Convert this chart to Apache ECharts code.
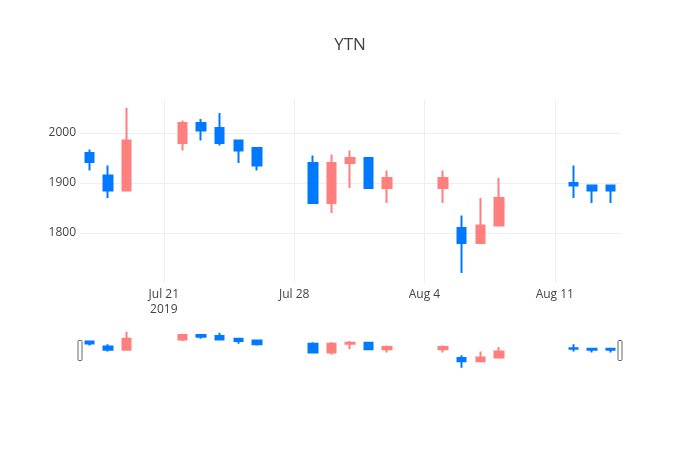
<!DOCTYPE html>
<html>
<head>
<meta charset="utf-8">
<script src="https://cdn.jsdelivr.net/npm/echarts@6/dist/echarts.min.js"></script>
<style>
html,body{margin:0;padding:0;background:#fff;}
#chart{width:700px;height:450px;}
</style>
</head>
<body>
<div id="chart"></div>
<script>
// ---- data ----
const dates = ['2019-07-17','2019-07-18','2019-07-19','2019-07-22','2019-07-23','2019-07-24','2019-07-25','2019-07-26',
  '2019-07-29','2019-07-30','2019-07-31','2019-08-01','2019-08-02','2019-08-05','2019-08-06','2019-08-07','2019-08-08',
  '2019-08-12','2019-08-13','2019-08-14'];
const openVals  = [1960,1915,1885,1980,2020,2010,1985,1970,1940,1860,1940,1950,1890,1890,1810,1780,1815,1900,1895,1895];
const closeVals = [1942,1885,1985,2020,2005,1980,1965,1935,1860,1940,1950,1890,1910,1910,1780,1815,1870,1895,1885,1885];
const lowVals   = [1925,1870,1885,1965,1985,1975,1940,1925,1860,1840,1890,1890,1860,1860,1720,1780,1815,1870,1860,1860];
const highVals  = [1967,1935,2050,2025,2028,2040,1985,1970,1955,1957,1965,1950,1925,1925,1835,1870,1910,1935,1895,1895];
const xTickDates  = ['2019-07-21','2019-07-28','2019-08-04','2019-08-11'];
const xTickLabels = ['Jul 21\n2019','Jul 28','Aug 4','Aug 11'];
const yTickValues = [1800,1900,2000];
const yTickLabels = ['1800','1900','2000'];
const xRangeDates = ['2019-07-16T12:00:00Z','2019-08-14T12:00:00Z'];
const yRange = [1700,2066];

const DAY = 86400000;
const ORIGIN = Date.parse('2019-07-21T00:00:00Z');
const toX = d => (Date.parse(d.length > 10 ? d : d + 'T00:00:00Z') - ORIGIN) / DAY;

const candleData = dates.map((d,i) => [toX(d), openVals[i], closeVals[i], lowVals[i], highVals[i]]);
const xTicks = xTickDates.map(toX);
const xLabelMap = {};
xTicks.forEach((v,i) => xLabelMap[v] = xTickLabels[i]);
const yLabelMap = {};
yTickValues.forEach((v,i) => yLabelMap[v] = yTickLabels[i]);

const UP = '#FF7F7F', DOWN = '#0078FF';
const FONT = '"Open Sans", verdana, arial, sans-serif';

const candleStyle = {color: UP, color0: DOWN, borderColor: UP, borderColor0: DOWN, borderWidth: 2};

const chart = echarts.init(document.getElementById('chart'), null, {renderer: 'canvas'});
chart.setOption({
  animation: false,
  backgroundColor: '#fff',
  title: {
    text: 'YTN', left: 'center', top: 32,
    textStyle: {fontFamily: FONT, fontSize: 17, fontWeight: 'normal', color: '#444'}
  },
  grid: [
    {left: 80, right: 80, top: 100, height: 183},
    {left: 80, right: 80, top: 330, height: 40}
  ],
  xAxis: [
    {
      type: 'value', gridIndex: 0,
      min: toX(xRangeDates[0]), max: toX(xRangeDates[1]),
      axisLine: {show: false},
      axisTick: {show: false, customValues: xTicks},
      splitLine: {show: true, lineStyle: {color: '#eee', width: 1}},
      axisLabel: {
        customValues: xTicks, margin: 4,
        formatter: v => xLabelMap[v] || '',
        fontFamily: FONT, fontSize: 12, color: '#444', lineHeight: 15
      }
    },
    {
      type: 'value', gridIndex: 1,
      min: toX(xRangeDates[0]), max: toX(xRangeDates[1]),
      show: false
    }
  ],
  yAxis: [
    {
      type: 'value', gridIndex: 0, min: yRange[0], max: yRange[1],
      axisLine: {show: false},
      axisTick: {show: false, customValues: yTickValues},
      splitLine: {show: true, lineStyle: {color: '#eee', width: 1}},
      axisLabel: {customValues: yTickValues, margin: 4, formatter: v => yLabelMap[v] || String(v),
        fontFamily: FONT, fontSize: 12, color: '#444'}
    },
    {type: 'value', gridIndex: 1, min: yRange[0], max: yRange[1], show: false}
  ],
  series: [
    {
      type: 'candlestick', xAxisIndex: 0, yAxisIndex: 0,
      data: candleData, encode: {x: 0, y: [1,2,3,4]},
      barWidth: 9, itemStyle: candleStyle, clip: true
    },
    {
      type: 'candlestick', xAxisIndex: 1, yAxisIndex: 1,
      data: candleData, encode: {x: 0, y: [1,2,3,4]},
      barWidth: 9, itemStyle: candleStyle, clip: true, silent: true
    }
  ],
  graphic: [
    {type: 'rect', shape: {x: 78, y: 340.5, width: 4, height: 20, r: 1},
     style: {fill: '#fff', stroke: '#666', lineWidth: 1}, z: 100},
    {type: 'rect', shape: {x: 618, y: 340.5, width: 4, height: 20, r: 1},
     style: {fill: '#fff', stroke: '#666', lineWidth: 1}, z: 100}
  ]
});
</script>
</body>
</html>
